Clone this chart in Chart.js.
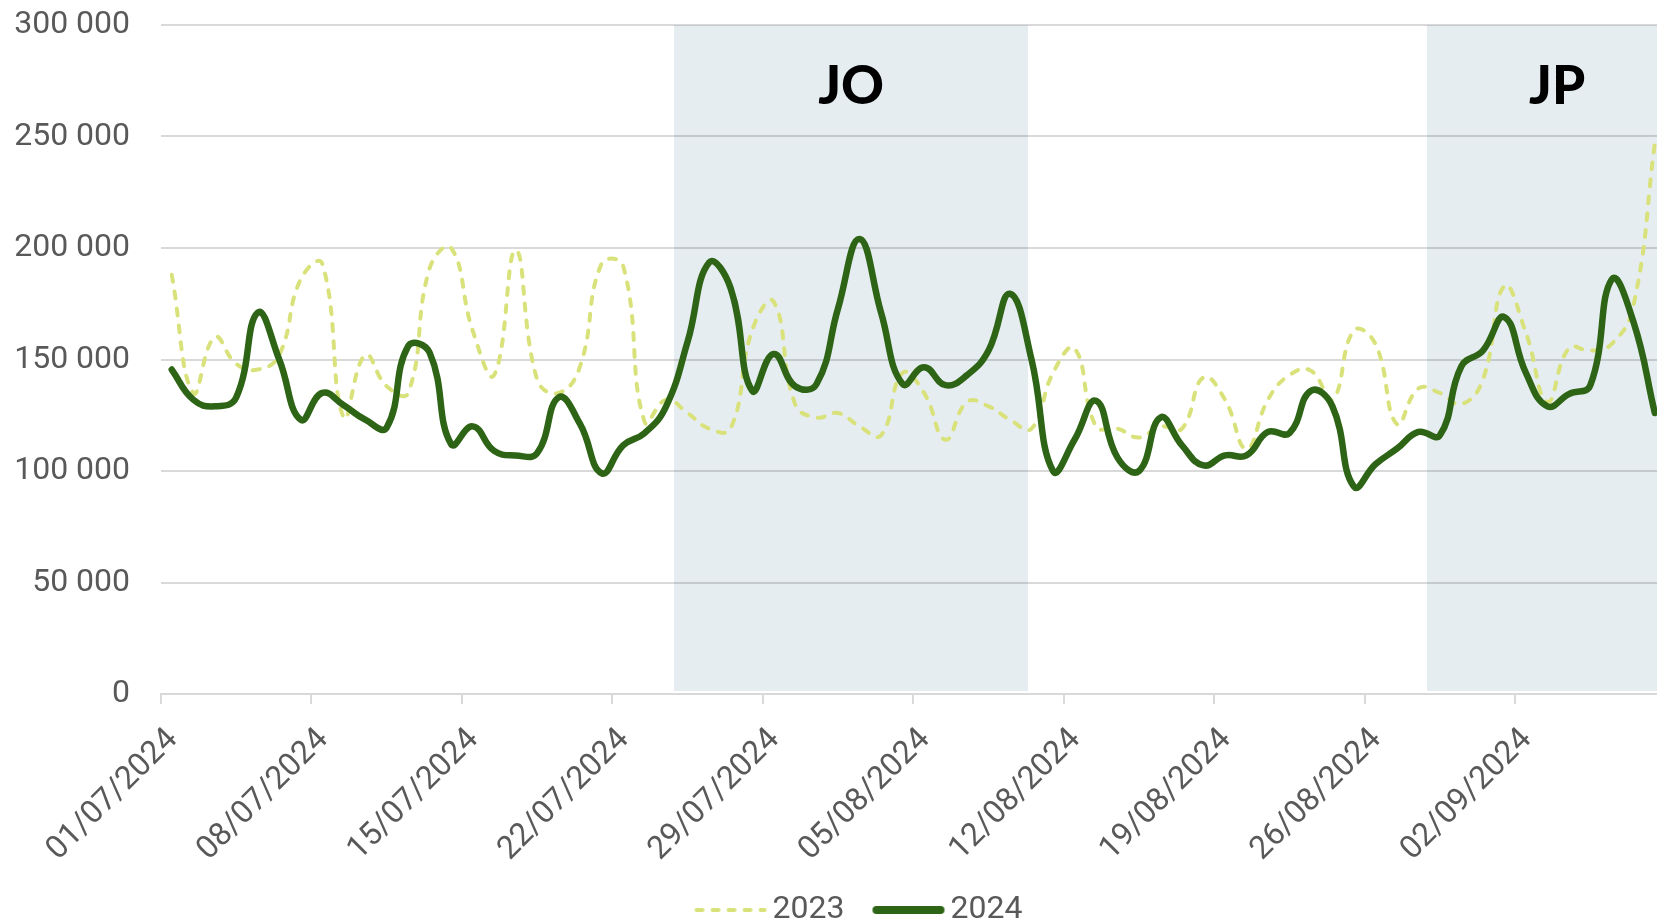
<!DOCTYPE html>
<html lang="fr">
<head>
<meta charset="utf-8">
<script src="https://cdn.jsdelivr.net/npm/chart.js@4/dist/chart.umd.min.js"></script>
<style>
  html, body { margin: 0; padding: 0; background: #fff; }
  #wrap { width: 1657px; height: 920px; }
</style>
</head>
<body>
<div id="wrap"><canvas id="graphique"></canvas></div>
<script>
// valeurs journalières, du 01/07 au 08/09
const annee2023 = [188000, 135000, 160000, 148000, 145500, 152000, 186000, 193000, 124000, 152000,
  138000, 135000, 191000, 200000, 163000, 143000, 199000, 141000, 135000, 147000,
  193000, 192000, 122000, 132000, 126000, 119000, 119000, 163000, 176000, 130000,
  124000, 126000, 120000, 116000, 144000, 135000, 114000, 131000, 129000, 123000,
  119000, 144000, 155000, 120000, 119000, 115000, 120000, 119000, 142000, 132000,
  110000, 132000, 143000, 145000, 132000, 163000, 157000, 121000, 137000, 135000,
  130000, 141000, 183000, 162000, 131000, 155000, 154000, 157000, 174000, 247000];

const annee2024 = [145500, 132000, 129000, 133000, 171000, 150000, 123000, 135000, 129500, 123000,
  119500, 156000, 153000, 112000, 120000, 109000, 107000, 108000, 133000, 121000,
  99000, 111500, 117000, 129000, 158000, 193500, 182000, 136000, 152500, 138000,
  139000, 173000, 204000, 171000, 139000, 146500, 138500, 143000, 154000, 179500,
  150000, 100000, 114000, 131500, 106000, 100000, 124000, 111500, 102500, 107000,
  107000, 117500, 117000, 136000, 129000, 93000, 103000, 110000, 117500, 116000,
  147000, 154000, 169000, 144000, 129000, 134500, 138500, 186000, 167000, 126000];

const etiquettesDates = ['01/07/2024', '08/07/2024', '15/07/2024', '22/07/2024', '29/07/2024',
  '05/08/2024', '12/08/2024', '19/08/2024', '26/08/2024', '02/09/2024'];

// périodes JO / JP en jours depuis le 01/07
const periodes = [
  { texte: 'JO', debut: 23.87, fin: 40.34 },
  { texte: 'JP', debut: 58.9, fin: 71 }
];

const formatMilliers = v => String(v).replace(/\B(?=(\d{3})+(?!\d))/g, ' ');

const points = serie => serie.map((v, i) => ({ x: i + 0.5, y: v }));

// petits échantillons de trait pour la légende (marge transparente à gauche)
function echantillon(couleur, epaisseur, tirets) {
  const c = document.createElement('canvas');
  c.width = 92;
  c.height = 12;
  const g = c.getContext('2d');
  g.strokeStyle = couleur;
  g.lineWidth = epaisseur;
  g.lineCap = 'round';
  g.setLineDash(tirets);
  g.beginPath();
  g.moveTo(18 + epaisseur / 2 + 1, 6);
  g.lineTo(92 - epaisseur / 2 - 1, 6);
  g.stroke();
  return c;
}
const echantillons = [echantillon('#d9e27a', 4, [6, 10]), echantillon('#2e6415', 8, [])];

const pluginPeriodes = {
  id: 'periodes',
  afterLayout(chart) {
    // la légende d'origine était centrée un peu plus à droite
    chart.legend.left += 52;
  },
  beforeDraw(chart) {
    const { ctx, chartArea, scales } = chart;
    const haut = scales.y.getPixelForValue(300000);
    const bas = scales.y.getPixelForValue(0) - 3;
    ctx.save();
    periodes.forEach(p => {
      const x1 = scales.x.getPixelForValue(p.debut);
      const x2 = Math.min(scales.x.getPixelForValue(p.fin), chartArea.right + 5);
      ctx.fillStyle = '#e6edf1';
      ctx.fillRect(x1, haut, x2 - x1, bas - haut);
      const xc = scales.x.getPixelForValue((p.debut + p.fin) / 2);
      ctx.fillStyle = '#000';
      ctx.font = '900 53px Lato';
      ctx.textAlign = 'center';
      ctx.textBaseline = 'middle';
      ctx.fillText(p.texte, xc, haut + 62);
    });
    ctx.restore();
  }
};

Chart.defaults.font.family = 'Roboto';
Chart.defaults.font.size = 32;
Chart.defaults.color = '#595959';

new Chart(document.getElementById('graphique'), {
  type: 'line',
  data: {
    datasets: [
      {
        label: '2023',
        data: points(annee2023),
        borderColor: '#d9e27a',
        borderWidth: 4,
        borderDash: [7, 10],
        borderCapStyle: 'round',
        pointRadius: 0,
        tension: 0.45,
        order: 1
      },
      {
        label: '2024',
        data: points(annee2024),
        borderColor: '#2e6415',
        borderWidth: 6.5,
        borderCapStyle: 'round',
        pointRadius: 0,
        tension: 0.45,
        order: 0
      }
    ]
  },
  options: {
    responsive: true,
    maintainAspectRatio: false,
    animation: false,
    layout: { padding: { top: 25, right: 0, bottom: -16, left: 0 } },
    scales: {
      x: {
        type: 'linear',
        min: 0,
        max: 69.6,
        grid: { drawOnChartArea: false, drawTicks: true, tickLength: 10, color: '#d9d9d9', lineWidth: 2 },
        border: { color: '#d9d9d9', width: 2 },
        ticks: {
          stepSize: 7,
          includeBounds: false,
          autoSkip: false,
          maxRotation: 45,
          minRotation: 45,
          padding: 17,
          labelOffset: 12,
          callback: v => etiquettesDates[Math.round(v / 7)]
        },
        afterFit: s => { s.height = 180; s.paddingLeft = 0; s.paddingRight = 0; }
      },
      y: {
        min: 0,
        max: 300000,
        grid: { color: 'rgba(0,0,0,0.15)', lineWidth: 2, drawTicks: false },
        border: { display: false },
        ticks: { stepSize: 50000, padding: 31, callback: v => formatMilliers(v) },
        afterFit: s => { s.width = 161; s.paddingTop = 0; s.paddingBottom = 0; }
      }
    },
    plugins: {
      legend: {
        position: 'bottom',
        labels: {
          usePointStyle: true,
          pointStyleWidth: 70,
          padding: 20,
          generateLabels: chart => {
            const items = Chart.defaults.plugins.legend.labels.generateLabels(chart);
            items.forEach(it => { it.pointStyle = echantillons[it.datasetIndex]; });
            return items.sort((a, b) => a.datasetIndex - b.datasetIndex);
          }
        }
      },
      tooltip: { enabled: false }
    }
  },
  plugins: [pluginPeriodes]
});
</script>
</body>
</html>
